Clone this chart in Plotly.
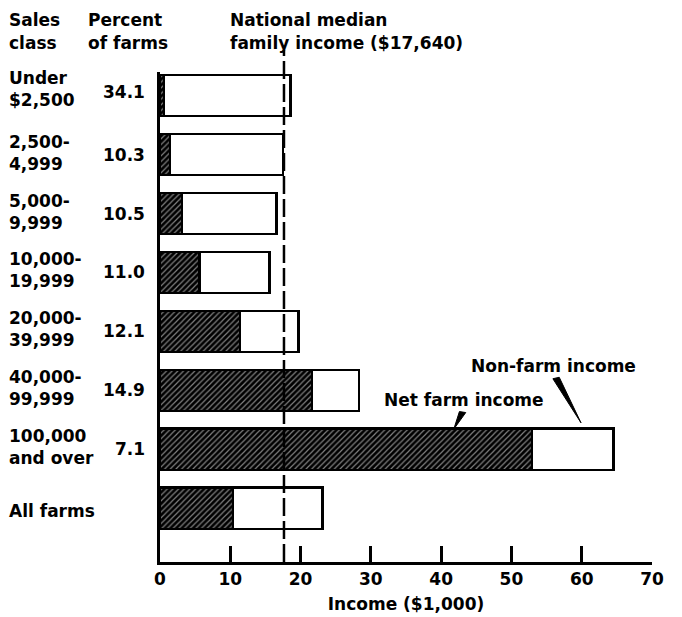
import plotly.graph_objects as go

# ---- data ----
sales_classes = ["Under<br>$2,500", "2,500-<br>4,999", "5,000-<br>9,999", "10,000-<br>19,999",
                 "20,000-<br>39,999", "40,000-<br>99,999", "100,000<br>and over", "All farms"]
percent_of_farms = ["34.1", "10.3", "10.5", "11.0", "12.1", "14.9", "7.1", ""]
net_farm_income = [0.6, 1.4, 3.1, 5.6, 11.4, 21.6, 52.9, 10.4]
non_farm_income = [18.0, 16.1, 13.5, 10.0, 8.3, 6.7, 11.6, 12.7]
median_income = 17.64
x_ticks = [0, 10, 20, 30, 40, 50, 60, 70]

FONT = "DejaVu Sans"
FS = 17

fig = go.Figure()
fig.add_trace(go.Bar(
    y=sales_classes, x=net_farm_income, orientation="h", width=0.7,
    marker=dict(color="black", line=dict(color="black", width=2.5),
                pattern=dict(shape="/", fgcolor="white", fillmode="overlay", size=4, solidity=0.3)),
    name="Net farm income", showlegend=False, hoverinfo="skip"))
fig.add_trace(go.Bar(
    y=sales_classes, x=non_farm_income, orientation="h", width=0.7,
    marker=dict(color="white", line=dict(color="black", width=2.5)),
    name="Non-farm income", showlegend=False, hoverinfo="skip"))

annotations = []

def add_lines(text, x, y, xref, yref, xanchor, spacing, yshift0=0):
    lines = text.split("<br>")
    n = len(lines)
    for i, ln in enumerate(lines):
        shift = yshift0 + ((n - 1) / 2 - i) * spacing
        annotations.append(dict(text=ln, x=x, y=y, xref=xref, yref=yref, xanchor=xanchor,
                                yanchor="middle", yshift=shift, showarrow=False,
                                font=dict(family=FONT, size=FS, color="black", weight="bold")))

# category and percent labels
for i, (cat, pct) in enumerate(zip(sales_classes, percent_of_farms)):
    off = (7 if i == 0 else 2) if "<br>" in cat else -3
    add_lines(cat, -0.31, cat, "paper", "y", "left", 22, yshift0=off)
    if pct:
        add_lines(pct, -0.026, cat, "paper", "y", "right", 22, yshift0=4 if i == 0 else 0)

# headers
add_lines("Sales<br>class", -0.31, 1.082, "paper", "paper", "left", 23)
add_lines("Percent<br>of farms", -0.151, 1.082, "paper", "paper", "left", 23)
add_lines("National median<br>family income ($17,640)", 0.139, 1.082, "paper", "paper", "left", 23)

# series labels
add_lines("Net farm income", 31.6, 0.33, "x", "paper", "left", 22)
add_lines("Non-farm income", 43.9, 0.40, "x", "paper", "left", 22)

shapes = [
    dict(type="line", xref="x", yref="paper", x0=median_income, x1=median_income, y0=0, y1=1.045,
         line=dict(color="black", width=2.5, dash="18px,5px")),
    dict(type="path", xref="x", yref="paper", path="M 42.6 0.307 L 43.5 0.305 L 41.8 0.271 Z",
         fillcolor="black", line=dict(color="black", width=1)),
    dict(type="path", xref="x", yref="paper", path="M 55.9 0.374 L 56.8 0.377 L 59.9 0.284 Z",
         fillcolor="black", line=dict(color="black", width=1)),
]

fig.update_layout(
    width=674, height=609,
    margin=dict(l=152, r=30, t=64, b=55, autoexpand=False),
    barmode="stack", bargap=0.3,
    plot_bgcolor="white", paper_bgcolor="white",
    font=dict(family=FONT, size=FS, color="black", weight="bold"),
    annotations=annotations, shapes=shapes,
    xaxis=dict(range=[0, 70], tickvals=x_ticks, ticktext=[str(v) for v in x_ticks],
               showgrid=False, zeroline=False, showline=True, linecolor="black", linewidth=2.5,
               ticks="inside", ticklen=16, tickwidth=2.5, tickcolor="black",
               tickfont=dict(family=FONT, size=FS, weight="bold"),
               title=dict(text="Income ($1,000)", font=dict(family=FONT, size=FS, weight="bold"), standoff=10)),
    yaxis=dict(categoryorder="array", categoryarray=sales_classes, range=[7.91, -0.4],
               showticklabels=False, showgrid=False, zeroline=False, showline=True,
               linecolor="black", linewidth=2.5, ticks=""),
)

fig.write_html("out.html")
